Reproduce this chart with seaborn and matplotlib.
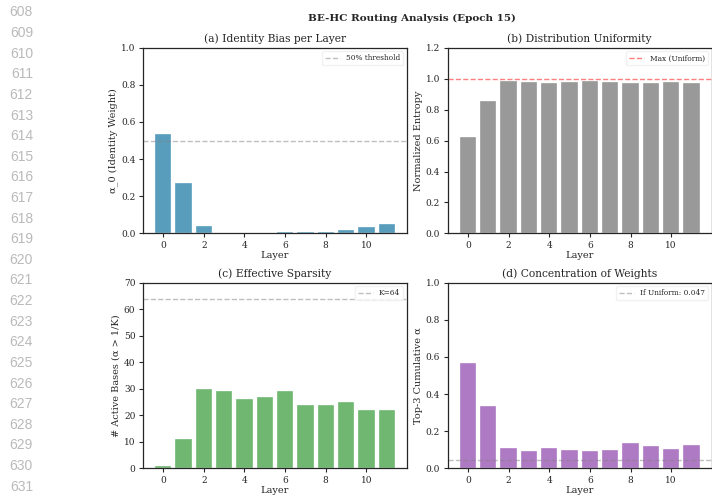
import numpy as np
import pandas as pd
import matplotlib
matplotlib.use("Agg")
import matplotlib.pyplot as plt
import seaborn as sns

# Per-layer routing stats
layers = list(range(12))
identity_bias = [0.538, 0.273, 0.038, 0.004, 0.004, 0.004, 0.005, 0.006, 0.009, 0.018, 0.034, 0.050]
norm_entropy = [0.622, 0.854, 0.983, 0.980, 0.975, 0.980, 0.988, 0.980, 0.975, 0.975, 0.980, 0.972]
active_bases = [1, 11, 30, 29, 26, 27, 29, 24, 24, 25, 22, 22]
top3_alpha = [0.565, 0.335, 0.108, 0.093, 0.108, 0.100, 0.095, 0.099, 0.138, 0.122, 0.106, 0.124]
line_numbers = list(range(608, 632))

sns.set_theme(style="ticks")
plt.rcParams["font.family"] = ["DejaVu Serif"]

df = pd.DataFrame({
    "Layer": layers,
    "identity": identity_bias,
    "entropy": norm_entropy,
    "active": active_bases,
    "top3": top3_alpha,
})

fig, axes = plt.subplots(2, 2, figsize=(7.12, 4.96), dpi=100)
fig.subplots_adjust(left=0.2008, right=0.9995, bottom=0.0558, top=0.9038,
                    wspace=0.155, hspace=0.265)

panels = [
    ("identity", "#2E86AB", "(a) Identity Bias per Layer", "α_0 (Identity Weight)", (0, 1.0),
     0.5, "gray", "50% threshold"),
    ("entropy", "gray", "(b) Distribution Uniformity", "Normalized Entropy", (0, 1.2),
     1.0, "red", "Max (Uniform)"),
    ("active", "#4CA64F", "(c) Effective Sparsity", "# Active Bases (α > 1/K)", (0, 70),
     64, "gray", "K=64"),
    ("top3", "#9B59B6", "(d) Concentration of Weights", "Top-3 Cumulative α", (0, 1.0),
     0.047, "gray", "If Uniform: 0.047"),
]

for ax, (col, color, title, ylabel, ylim, ref, refcolor, reflabel) in zip(axes.flat, panels):
    sns.barplot(data=df, x="Layer", y=col, native_scale=True, color=color, alpha=0.8,
                edgecolor="white", linewidth=0.3, saturation=1, ax=ax)
    ax.axhline(ref, color=refcolor, linestyle="--", linewidth=1, alpha=0.5, label=reflabel)
    ax.set_xlim(-0.99, 11.99)
    ax.set_ylim(*ylim)
    ax.set_xticks(range(0, 12, 2))
    ax.set_title(title, fontsize=7.7, pad=4)
    ax.set_ylabel(ylabel, fontsize=7, labelpad=2)
    ax.set_xlabel("Layer", fontsize=7, labelpad=1)
    ax.tick_params(labelsize=6.5, length=3, width=0.8, pad=2.5)
    for s in ax.spines.values():
        s.set_linewidth(0.9)
    ax.legend(loc="upper right", fontsize=5.3, frameon=True, framealpha=0.8,
              edgecolor="#eeeeee", fancybox=True)

fig.suptitle("BE-HC Routing Analysis (Epoch 15)", fontsize=7.5, fontweight="bold",
             x=0.579, y=0.972)

# margin line numbers of the page
for i, n in enumerate(line_numbers):
    fig.text(33 / 712, 1 - (12.4 + i * 20.62) / 496, str(n), ha="right", va="center",
             fontsize=10, color="#bababa", family=["Liberation Sans", "DejaVu Sans"])

plt.savefig("out.png", dpi=100)
